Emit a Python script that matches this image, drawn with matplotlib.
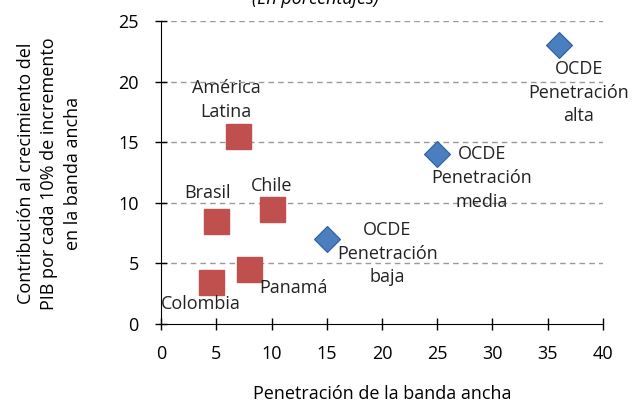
import matplotlib.pyplot as plt

plt.rcParams['font.family'] = ['Open Sans', 'DejaVu Sans']

# America Latina y paises (cuadrados rojos)
la_names = ["América\nLatina", "Brasil", "Chile", "Panamá", "Colombia"]
la_x = [7, 5, 10, 8, 4.5]
la_y = [15.5, 8.5, 9.5, 4.5, 3.5]
la_label_pos = [(5.9, 18.5), (4.2, 10.8), (10.0, 11.4), (12.0, 3.0), (3.6, 1.65)]

# OCDE (rombos azules)
oc_names = ["OCDE\nPenetración\nbaja", "OCDE\nPenetración\nmedia", "OCDE\nPenetración\nalta"]
oc_x = [15, 25, 36]
oc_y = [7, 14, 23]
oc_label_pos = [(20.5, 5.8), (29.05, 12.05), (37.8, 19.1)]

fig = plt.figure(figsize=(6.34, 4.04), dpi=100)
ax = fig.add_axes([0.254, 0.198, 0.697, 0.750])

for y in [5, 10, 15, 20, 25]:
    ax.axhline(y, color='#9a9a9a', ls=(0, (4, 3)), lw=1, zorder=0)

ax.plot(la_x, la_y, ls='none', marker='s', ms=18, color='#C0504D', mec='#C0504D', zorder=3)
ax.plot(oc_x, oc_y, ls='none', marker='D', ms=13, color='#4A7EBF', mec='#2E5E9E', mew=0.8, zorder=3)

fs = 13
for name, (tx, ty) in zip(la_names, la_label_pos):
    ax.text(tx, ty, name, ha='center', va='center', fontsize=fs, color='#222222',
            linespacing=1.4, zorder=4)
for name, (tx, ty) in zip(oc_names, oc_label_pos):
    ax.text(tx, ty, name, ha='center', va='center', fontsize=fs, color='#222222',
            linespacing=1.4, zorder=4)

ax.set_xlim(0, 40)
ax.set_ylim(0, 25)
ax.set_xticks(range(0, 41, 5))
ax.set_yticks(range(0, 26, 5))
ax.tick_params(direction='inout', length=8, width=1, labelsize=fs, colors='black')
ax.tick_params(axis='x', pad=11)
ax.tick_params(axis='y', pad=12)
for s in ['top', 'right']:
    ax.spines[s].set_visible(False)
ax.spines['left'].set_color('black')
ax.spines['bottom'].set_color('black')

ax.set_xlabel("Penetración de la banda ancha", fontsize=fs, labelpad=16)
fig.text(0.078, 0.571, "Contribución al crecimiento del\nPIB por cada 10% de incremento\nen la banda ancha",
         rotation=90, ha='center', va='center', fontsize=fs, linespacing=1.4)

fig.text(0.497, 0.99, "(En porcentajes)", ha='center', va='baseline', fontsize=fs, style='italic')

fig.savefig("out.png", dpi=100)
